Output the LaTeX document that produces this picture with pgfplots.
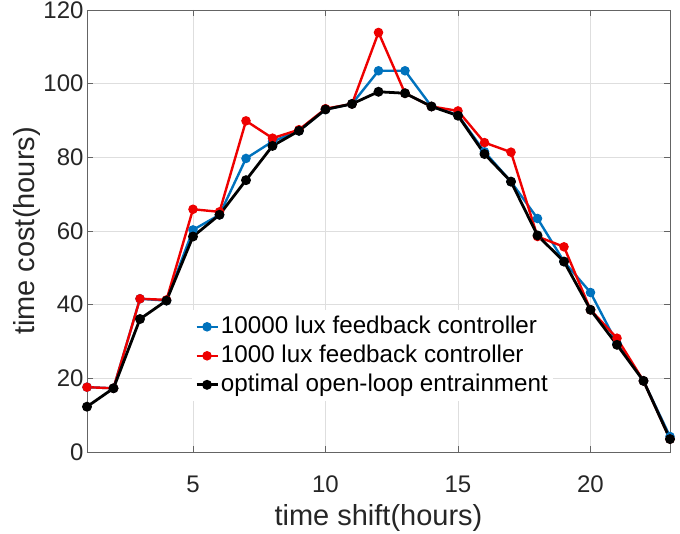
\documentclass[border=0pt]{standalone}
\usepackage{fontspec}
\setmainfont{Liberation Sans}
\usepackage{pgfplots}
\pgfplotsset{compat=1.18}
\definecolor{mblue}{RGB}{0,114,189}
\definecolor{mred}{RGB}{238,0,0}
\definecolor{frame}{RGB}{100,100,100}
\definecolor{gridc}{RGB}{222,222,222}
\begin{document}
\begin{tikzpicture}
\begin{axis}[
  scale only axis,
  width=583pt, height=442pt,
  xmin=1, xmax=23, ymin=0, ymax=120,
  xtick={5,10,15,20},
  ytick={0,20,40,60,80,100,120},
  /pgf/number format/assume math mode=true,
  tick label style={font=\fontsize{24}{28}\selectfont, text=black!85},
  xticklabel style={yshift=-20pt},
  label style={font=\fontsize{29}{34}\selectfont, text=black!85},
  xlabel={time shift(hours)},
  ylabel={time cost(hours)},
  xlabel style={yshift=-5pt},
  ylabel style={yshift=-4pt},
  grid=major,
  major grid style={gridc, line width=0.8pt},
  axis line style={frame, line width=0.8pt},
  tick style={frame, line width=0.8pt},
  major tick length=6pt,
  tick pos=both,
  tick align=inside,
  legend style={at={(0.180,0.321)}, anchor=north west, draw=none, fill=white,
    font=\fontsize{24.2}{29}\selectfont, inner xsep=3pt, inner ysep=2pt,
    nodes={text height=19pt, text depth=6pt, inner ysep=2pt, inner xsep=2pt},
    row sep=0pt},
  legend cell align=left,
  legend image code/.code={\draw[mark repeat=2, mark phase=2, #1] plot coordinates {(0pt,0pt) (10.5pt,0pt) (21pt,0pt)};},
]
\addplot[mblue, line width=2.4pt, mark=*, mark size=3.5pt] coordinates {
(1,17.6) (2,17.3) (3,41.6) (4,41.1) (5,60.3) (6,64.4) (7,79.7) (8,84.3) (9,87.2) (10,93.0) (11,94.5) (12,103.5) (13,103.5) (14,93.8) (15,91.5) (16,81.5) (17,73.4) (18,63.4) (19,51.7) (20,43.3) (21,29.5) (22,19.3) (23,4.2)};
\addlegendentry{10000 lux feedback controller}
\addplot[mred, line width=2.4pt, mark=*, mark size=3.5pt] coordinates {
(1,17.6) (2,17.3) (3,41.6) (4,41.3) (5,65.9) (6,65.2) (7,89.9) (8,85.2) (9,87.5) (10,93.2) (11,94.5) (12,113.9) (13,97.4) (14,93.8) (15,92.6) (16,84.0) (17,81.4) (18,58.5) (19,55.7) (20,38.6) (21,30.9) (22,19.3) (23,3.5)};
\addlegendentry{1000 lux feedback controller}
\addplot[black, line width=2.8pt, mark=*, mark size=3.5pt] coordinates {
(1,12.3) (2,17.3) (3,36.1) (4,41.1) (5,58.5) (6,64.4) (7,73.8) (8,83.1) (9,87.2) (10,93.0) (11,94.5) (12,97.8) (13,97.4) (14,93.8) (15,91.3) (16,80.9) (17,73.4) (18,58.8) (19,51.7) (20,38.6) (21,29.1) (22,19.3) (23,3.5)};
\addlegendentry{optimal open-loop entrainment}
\end{axis}
\pgfresetboundingbox
\path (-87pt,-82pt) rectangle (593pt,452pt);
\end{tikzpicture}
\end{document}
